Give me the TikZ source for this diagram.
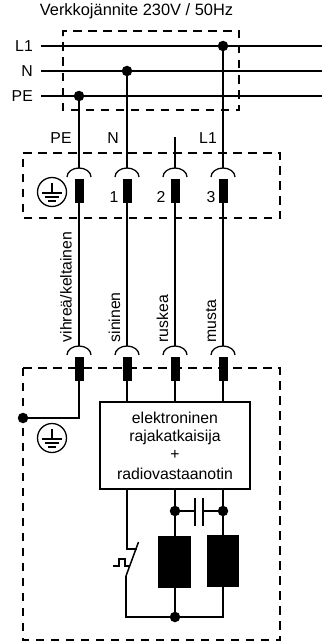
\documentclass[tikz,border=0pt]{standalone}
\usepackage{fontspec}
\setmainfont{Liberation Sans}
\begin{document}
\begin{tikzpicture}[x=1pt,y=-1pt,
  wire/.style={line width=1.5pt,black},
  thin wire/.style={line width=1.2pt,black},
  dashbox/.style={line width=1.3pt,dash pattern=on 8.5pt off 6.5pt,black},
  junction/.style={circle,fill=black,inner sep=0pt,minimum size=10.5pt},
  lbl/.style={font=\fontsize{15.8pt}{17pt}\selectfont,inner sep=0pt},
  vlbl/.style={lbl,rotate=90,anchor=west},
  coil/.style={fill=black,draw=none}]
\useasboundingbox (0,0) rectangle (322,642);
\fill[white] (0,0) rectangle (322,642);
\newcommand{\socket}[2]{%
  \draw[line width=1.3pt] (#1-12,#2+9) arc[start angle=180,end angle=360,x radius=12,y radius=9];
  \fill (#1-4.5,#2+11) rectangle (#1+4.5,#2+35);
}
\newcommand{\earth}[2]{%
  \draw[line width=1.3pt] (#1,#2) circle[radius=14.5];
  \draw[line width=1.2pt] (#1,#2-9) -- (#1,#2+1);
  \draw[line width=1.2pt] (#1-10,#2+1) -- (#1+10,#2+1);
  \draw[line width=1.2pt] (#1-7,#2+5) -- (#1+7,#2+5);
  \draw[line width=1.2pt] (#1-4,#2+9) -- (#1+4,#2+9);
}
% dashed boxes
\draw[dashbox] (63,36) -- (63,31) -- (239,31) -- (239,110) -- (63,110) -- cycle;
\draw[dashbox] (23,153) -- (280,153) -- (280,218) -- (23,218) -- cycle;
\draw[dashbox] (23,368) -- (280,368) -- (280,640) -- (23,640) -- cycle;
% mains
\node[lbl,font=\fontsize{16.4pt}{18pt}\selectfont] (tit) at (136.5,11) {Verkkojännite 230V / 50Hz};
\node[lbl,anchor=east] (lL) at (33,46.5) {L1};
\node[lbl,anchor=east] (lN) at (33,71) {N};
\node[lbl,anchor=east] (lP) at (33,96) {PE};
\coordinate (L1s) at (41,46); \coordinate (L1e) at (322,46);
\coordinate (Ns) at (41,71); \coordinate (Ne) at (322,71);
\coordinate (Ps) at (41,96); \coordinate (Pe) at (322,96);
\draw[thin wire] (L1s) -- (L1e);
\draw[thin wire] (Ns) -- (Ne);
\draw[thin wire] (Ps) -- (Pe);
\node[junction] (jL) at (223,46) {};
\node[junction] (jN) at (127,71) {};
\node[junction] (jP) at (79,96) {};
% sockets
\socket{79}{168}\socket{127}{168}\socket{175}{168}\socket{223}{168}
\socket{79}{346}\socket{127}{346}\socket{175}{346}\socket{223}{346}
\coordinate (a1) at (79,168); \coordinate (a2) at (127,168); \coordinate (a3) at (175,168); \coordinate (a4) at (223,168);
\coordinate (b1) at (79,203); \coordinate (b2) at (127,203); \coordinate (b3) at (175,203); \coordinate (b4) at (223,203);
\coordinate (c1) at (79,346); \coordinate (c2) at (127,346); \coordinate (c3) at (175,346); \coordinate (c4) at (223,346);
\coordinate (d1) at (79,380); \coordinate (d2) at (127,380); \coordinate (d3) at (175,380); \coordinate (d4) at (223,380);
\coordinate (t3) at (175,137);
\draw[wire] (jP.center) -- (a1);
\draw[wire] (jN.center) -- (a2);
\draw[wire] (t3) -- (a3);
\draw[wire] (jL.center) -- (a4);
\foreach \i in {1,2,3,4} \draw[wire] (b\i) -- (c\i);
\node[lbl] (pe) at (61,138) {PE};
\node[lbl] (nn) at (113,138) {N};
\node[lbl] (ll) at (208,138) {L1};
\node[lbl] (n1) at (114,197) {1};
\node[lbl] (n2) at (161,197) {2};
\node[lbl] (n3) at (211,197) {3};
\earth{52}{192}
\node[vlbl] (v1) at (66,342.5) {vihreä/keltainen};
\node[vlbl] (v2) at (114.5,342.5) {sininen};
\node[vlbl] (v3) at (162.5,342.5) {ruskea};
\node[vlbl] (v4) at (211,342.5) {musta};
% lower
\node[draw,line width=1.1pt,minimum width=150pt,minimum height=87pt,inner sep=0pt] (box) at (175,445.5) {};
\node[lbl] at (175,418) {elektroninen};
\node[lbl] at (175,437) {rajakatkaisija};
\node[lbl] at (175,455) {+};
\node[lbl] at (175,474) {radiovastaanotin};
\coordinate (e2) at (127,402); \coordinate (e3) at (175,402); \coordinate (e4) at (223,402);
\draw[wire] (d2) -- (e2);
\draw[wire] (d3) -- (e3);
\draw[wire] (d4) -- (e4);
\node[junction] (jE) at (23,418) {};
\draw[wire] (d1) |- (jE.center);
\earth{52}{438}
% coils & cap
\node[coil,minimum width=33pt,minimum height=52pt,inner sep=0pt] (c1k) at (174.5,562) {};
\node[coil,minimum width=32pt,minimum height=52pt,inner sep=0pt] (c2k) at (223,561) {};
\node[junction] (j1) at (175,511) {};
\node[junction] (j2) at (223,511) {};
\node[junction] (j3) at (175,617) {};
\coordinate (bx1) at (175,489.5); \coordinate (bx2) at (223,489.5); \coordinate (bx3) at (127,489.5);
\draw[wire] (bx1) -- (c1k.north -| bx1);
\draw[wire] (bx2) -- (c2k.north -| bx2);
\draw[wire] (c1k.south -| bx1) -- (j3.center);
\coordinate (sw) at (127,549);
\coordinate (swa) at (126,576);
\coordinate (swb) at (138.5,542);
\coordinate (swc) at (137,549);
\draw[wire] (bx3) -- (sw) -- (swc);
\draw[wire] (swa) -- (swb);
\draw[thin wire] (swa) -- (126,617) -- (223,617) -- (c2k.south -| bx2);
\draw[line width=1.1pt] (113,566) -- (119,566) -- (119,559) -- (125,559) -- (125,566) -- (130,566);
\coordinate (p1) at (195,511); \coordinate (p2) at (203,511);
\draw[wire] (j1.center) -- (p1);
\draw[wire] (p2) -- (j2.center);
\draw[wire] (195,498) -- (195,526);
\draw[wire] (203,498) -- (203,526);
\end{tikzpicture}
\end{document}
